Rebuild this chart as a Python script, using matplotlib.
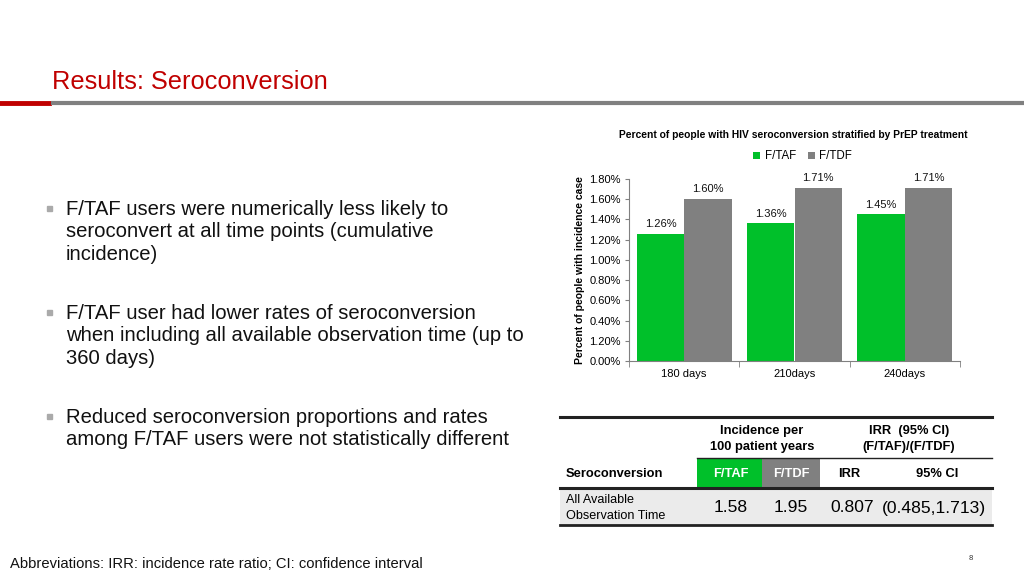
import matplotlib
matplotlib.use("Agg")
import matplotlib.pyplot as plt
from matplotlib.patches import Rectangle
from matplotlib.lines import Line2D
import numpy as np

plt.rcParams['font.family'] = ['Liberation Sans', 'DejaVu Sans']

# ---- data ----
categories = ["180 days", "210days", "240days"]
series_names = ["F/TAF", "F/TDF"]
taf_values = [1.26, 1.36, 1.45]
tdf_values = [1.60, 1.71, 1.71]
ytick_values = [0.0, 0.2, 0.4, 0.6, 0.8, 1.0, 1.2, 1.4, 1.6, 1.8]
ytick_labels = ["0.00%", "1.20%", "0.40%", "0.60%", "0.80%", "1.00%", "1.20%", "1.40%", "1.60%", "1.80%"]

bullets = [
    "F/TAF users were numerically less likely to\nseroconvert at all time points (cumulative\nincidence)",
    "F/TAF user had lower rates of seroconversion\nwhen including all available observation time (up to\n360 days)",
    "Reduced seroconversion proportions and rates\namong F/TAF users were not statistically different",
]
table_row_label = "All Available\nObservation Time"
table_incidence = ["1.58", "1.95"]
table_irr = "0.807"
table_ci = "(0.485,1.713)"

GREEN = "#00C02A"
GRAY = "#808080"
RED = "#C00000"

W, H = 1024, 576
fig = plt.figure(figsize=(W / 100, H / 100), dpi=100)
fig.patch.set_facecolor("white")

def fx(x):
    return x / W

def fy(y):
    return 1 - y / H

# ---- header ----
fig.text(fx(52), fy(82), "Results: Seroconversion", color=RED, fontsize=18.3,
         ha="left", va="center")
fig.add_artist(Line2D([fx(0), fx(49)], [fy(103), fy(103)], color=RED, lw=3.5))
fig.add_artist(Line2D([fx(53), fx(1024)], [fy(103), fy(103)], color=GRAY, lw=3.0))

# ---- bullets ----
bullet_y = [208, 312, 416]
for by, txt in zip(bullet_y, bullets):
    fig.add_artist(Rectangle((fx(47), fy(by + 3)), 5 / W, 5 / H, color="#AAAAAA"))
    fig.text(fx(66), fy(by - 8), txt, fontsize=14.6, ha="left", va="top",
             linespacing=1.22, color="#111111")

fig.text(fx(10), fy(564), "Abbreviations: IRR: incidence rate ratio; CI: confidence interval",
         fontsize=10.6, ha="left", va="center", color="#111111")
fig.text(fx(971), fy(558), "8", fontsize=5.5, ha="center", va="center", color="#333333")

# ---- bar chart ----
ax = fig.add_axes([fx(629), fy(361), (960 - 629) / W, (361 - 179) / H])
x = np.arange(len(categories))
bw = 0.43
b1 = ax.bar(x - bw / 2, taf_values, bw, color=GREEN, label=series_names[0])
b2 = ax.bar(x + bw / 2, tdf_values, bw, color=GRAY, label=series_names[1])
for bars, vals in ((b1, taf_values), (b2, tdf_values)):
    for r, v in zip(bars, vals):
        ax.annotate(f"{v:.2f}%", (r.get_x() + r.get_width() / 2, v),
                    xytext=(0, 3.5), textcoords="offset points",
                    ha="center", va="bottom", fontsize=8, color="#111111")
ax.set_xlim(-0.5, len(categories) - 0.5)
ax.set_ylim(0, 1.8)
ax.set_yticks(ytick_values)
ax.set_yticklabels(ytick_labels, fontsize=8)
ax.set_xticks(x)
ax.set_xticklabels(categories, fontsize=8)
ax.tick_params(axis="x", length=0, pad=6)
ax.set_xticks(np.arange(-0.5, len(categories)), minor=True)
ax.tick_params(axis="x", which="minor", length=4, direction="out", color=GRAY)
ax.tick_params(axis="y", length=3, direction="out", color=GRAY, pad=3)
for s in ("top", "right"):
    ax.spines[s].set_visible(False)
for s in ("left", "bottom"):
    ax.spines[s].set_color(GRAY)
    ax.spines[s].set_linewidth(0.8)
ax.set_ylabel("Percent of people with incidence case", fontsize=7.5, fontweight="bold",
              labelpad=3)
ax.set_title("Percent of people with HIV seroconversion stratified by PrEP treatment",
             fontsize=7.35, fontweight="bold", pad=29.5, x=0.497)
ax.legend(loc="lower center", bbox_to_anchor=(0.525, 1.035), ncol=2, frameon=False,
          fontsize=8.3, handlelength=0.6, handleheight=0.6, handletextpad=0.4,
          columnspacing=1.0)

# ---- table ----
def hline(x0, x1, y, lw, color="#222222"):
    fig.add_artist(Line2D([fx(x0), fx(x1)], [fy(y), fy(y)], color=color, lw=lw))

fig.add_artist(Rectangle((fx(560), fy(525)), (992 - 560) / W, (525 - 488) / H,
                         color="#EBEBEB", lw=0))
fig.add_artist(Rectangle((fx(697), fy(488)), (762 - 697) / W, (488 - 458) / H,
                         color=GREEN, lw=0))
fig.add_artist(Rectangle((fx(762), fy(488)), (820 - 762) / W, (488 - 458) / H,
                         color=GRAY, lw=0))
hline(560, 992, 417, 2.2)
hline(697, 992, 458, 1.0)
hline(560, 992, 488, 2.2)
hline(560, 992, 525, 2.0)

fig.text(fx(762), fy(439), "Incidence per\n100 patient years", fontsize=9.3,
         fontweight="bold", ha="center", va="center", linespacing=1.35)
fig.text(fx(909), fy(439), "IRR  (95% CI)\n(F/TAF)/(F/TDF)", fontsize=9.3,
         fontweight="bold", ha="center", va="center", linespacing=1.35)
fig.text(fx(566), fy(474), "Seroconversion", fontsize=9.3, fontweight="bold",
         ha="left", va="center")
fig.text(fx(731), fy(474), series_names[0], fontsize=9.3, fontweight="bold",
         ha="center", va="center", color="white")
fig.text(fx(791), fy(474), series_names[1], fontsize=9.3, fontweight="bold",
         ha="center", va="center", color="white")
fig.text(fx(849), fy(474), "IRR", fontsize=9.3, fontweight="bold",
         ha="center", va="center")
fig.text(fx(937), fy(474), "95% CI", fontsize=9.3, fontweight="bold",
         ha="center", va="center")
fig.text(fx(566), fy(508), table_row_label, fontsize=9.1, ha="left", va="center",
         linespacing=1.35)
fig.text(fx(731), fy(508), table_incidence[0], fontsize=12.6, ha="center", va="center")
fig.text(fx(791), fy(508), table_incidence[1], fontsize=12.6, ha="center", va="center")
fig.text(fx(852), fy(508), table_irr, fontsize=12.6, ha="center", va="center")
fig.text(fx(934), fy(508), table_ci, fontsize=12.6, ha="center", va="center")

fig.savefig("out.png", dpi=100, facecolor="white")
